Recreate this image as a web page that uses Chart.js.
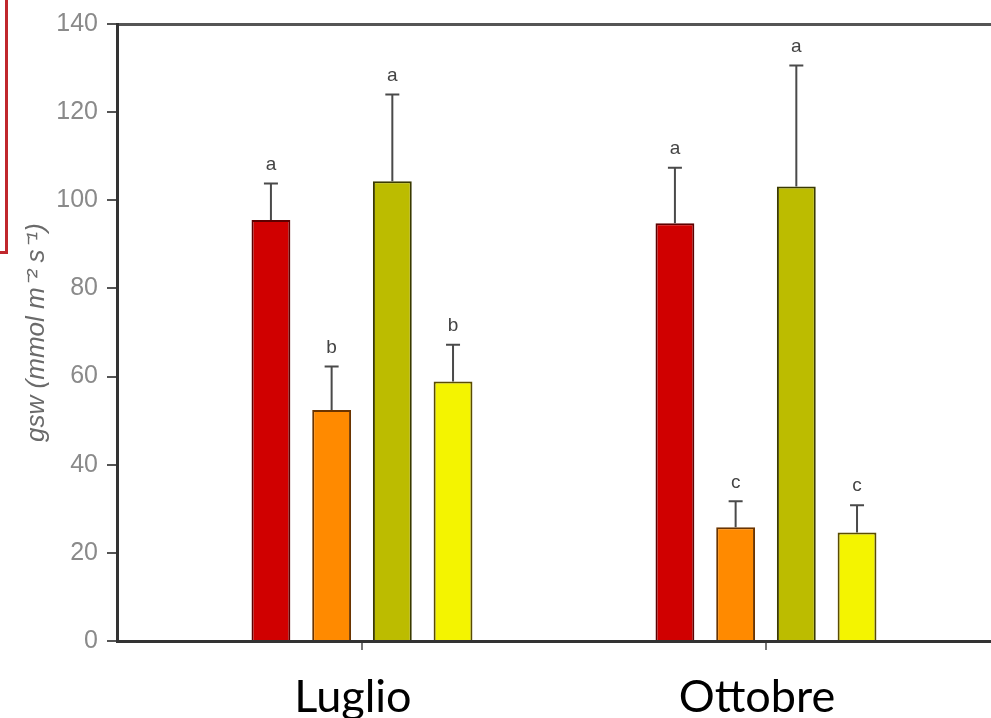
<!DOCTYPE html>
<html>
<head>
<meta charset="utf-8">
<script src="https://cdn.jsdelivr.net/npm/chart.js@4.4.1/dist/chart.umd.min.js"></script>
<style>
  html, body { margin: 0; padding: 0; background: #fff; overflow: hidden; }
  #wrap { position: relative; width: 991px; height: 718px; }
  #bracket {
    position: absolute; left: -10px; top: -10px; width: 18px; height: 264px;
    box-sizing: border-box; border-right: 3px solid #c0272d; border-bottom: 3px solid #c0272d;
  }
</style>
</head>
<body>
<div id="wrap">
  <canvas id="myChart" width="991" height="718"></canvas>
  <div id="bracket"></div>
</div>
<script>
const months = ["Luglio", "Ottobre"];
const monthPos = [1, 2];

// mean values for the four treatments
const serie1 = [95.5, 94.8];
const serie2 = [52.4, 25.8];
const serie3 = [104.3, 103.1];
const serie4 = [58.9, 24.6];

// standard errors
const err1 = [8.3, 12.6];
const err2 = [9.9, 5.9];
const err3 = [19.7, 27.5];
const err4 = [8.3, 6.2];

// letters of significance
const lett1 = ["a", "a"];
const lett2 = ["b", "c"];
const lett3 = ["a", "a"];
const lett4 = ["b", "c"];

const yTicks = [0, 20, 40, 60, 80, 100, 120, 140];

function toPoints(vals) {
  return vals.map((v, i) => ({ x: monthPos[i], y: v }));
}

const errorBars = {
  id: "errorBars",
  afterDatasetsDraw(chart) {
    const ctx = chart.ctx;
    const yScale = chart.scales.y;
    ctx.save();
    chart.data.datasets.forEach((ds, di) => {
      const meta = chart.getDatasetMeta(di);
      meta.data.forEach((bar, i) => {
        const top = yScale.getPixelForValue(ds.data[i].y + ds.errors[i]);
        ctx.strokeStyle = "#4a4a4a";
        ctx.lineWidth = 2;
        ctx.beginPath();
        ctx.moveTo(bar.x, bar.y);
        ctx.lineTo(bar.x, top);
        ctx.moveTo(bar.x - 7, top);
        ctx.lineTo(bar.x + 7, top);
        ctx.stroke();
        ctx.fillStyle = "#444";
        ctx.font = "19px 'Liberation Sans', Arial, sans-serif";
        ctx.textAlign = "center";
        ctx.textBaseline = "middle";
        ctx.fillText(ds.letters[i], bar.x, top - 19);
      });
    });
    ctx.restore();
  },
};

const xMin = 0.3936;
const xMax = 2.557;

const data = {
  datasets: [
    {
      label: "T1",
      data: toPoints(serie1),
      errors: err1,
      letters: lett1,
      backgroundColor: "#d00000",
      borderColor: "#5e0000",
    },
    {
      label: "T2",
      data: toPoints(serie2),
      errors: err2,
      letters: lett2,
      backgroundColor: "#ff8a00",
      borderColor: "#6a3400",
    },
    {
      label: "T3",
      data: toPoints(serie3),
      errors: err3,
      letters: lett3,
      backgroundColor: "#bcbc00",
      borderColor: "#3a3a00",
    },
    {
      label: "T4",
      data: toPoints(serie4),
      errors: err4,
      letters: lett4,
      backgroundColor: "#f4f400",
      borderColor: "#5a4c00",
    },
  ],
};

data.datasets.forEach((ds) => {
  ds.borderWidth = 2;
  ds.categoryPercentage = 0.601;
  ds.barPercentage = 0.64;
});

const config = {
  type: "bar",
  data: data,
  options: {
    responsive: false,
    animation: false,
    layout: { padding: 0 },
    plugins: {
      legend: { display: false },
      tooltip: { enabled: false },
    },
    scales: {
      x: {
        type: "linear",
        position: "bottom",
        offset: false,
        min: xMin,
        max: xMax,
        afterBuildTicks: (axis) => {
          axis.ticks = monthPos.map((v) => ({ value: v }));
        },
        afterFit: (axis) => {
          axis.height = 77;
        },
        ticks: {
          callback: (value) => months[monthPos.indexOf(value)] || "",
          font: { family: "Lato", size: 45 },
          color: "#000",
          padding: 20,
          labelOffset: -9,
          maxRotation: 0,
          autoSkip: false,
        },
        grid: {
          offset: false,
          drawOnChartArea: false,
          tickLength: 9,
          color: "#777",
          lineWidth: 2,
        },
        border: { color: "#333", width: 3 },
      },
      xTop: {
        type: "linear",
        position: "top",
        offset: false,
        min: xMin,
        max: xMax,
        afterFit: (axis) => {
          axis.height = 18;
        },
        ticks: { display: false },
        grid: { display: false },
        border: { color: "#555", width: 3 },
      },
      y: {
        min: 0,
        max: 140,
        afterBuildTicks: (axis) => {
          axis.ticks = yTicks.map((v) => ({ value: v }));
        },
        afterFit: (axis) => {
          axis.width = 117;
        },
        ticks: {
          font: { family: "Liberation Sans", size: 25 },
          color: "#8a8a8a",
          padding: 9,
        },
        grid: {
          drawOnChartArea: false,
          tickLength: 10,
          color: "#555",
          lineWidth: 2,
        },
        border: { color: "#333", width: 3 },
        title: {
          display: true,
          text: "gsw (mmol m\u207B\u00B2 s\u207B\u00B9)",
          font: { family: "Liberation Sans", size: 26, style: "italic" },
          color: "#6a6a6a",
          padding: { top: 21, bottom: 0 },
        },
      },
    },
  },
  plugins: [errorBars],
};

var myChart = new Chart(document.getElementById("myChart"), config);
</script>
</body>
</html>
